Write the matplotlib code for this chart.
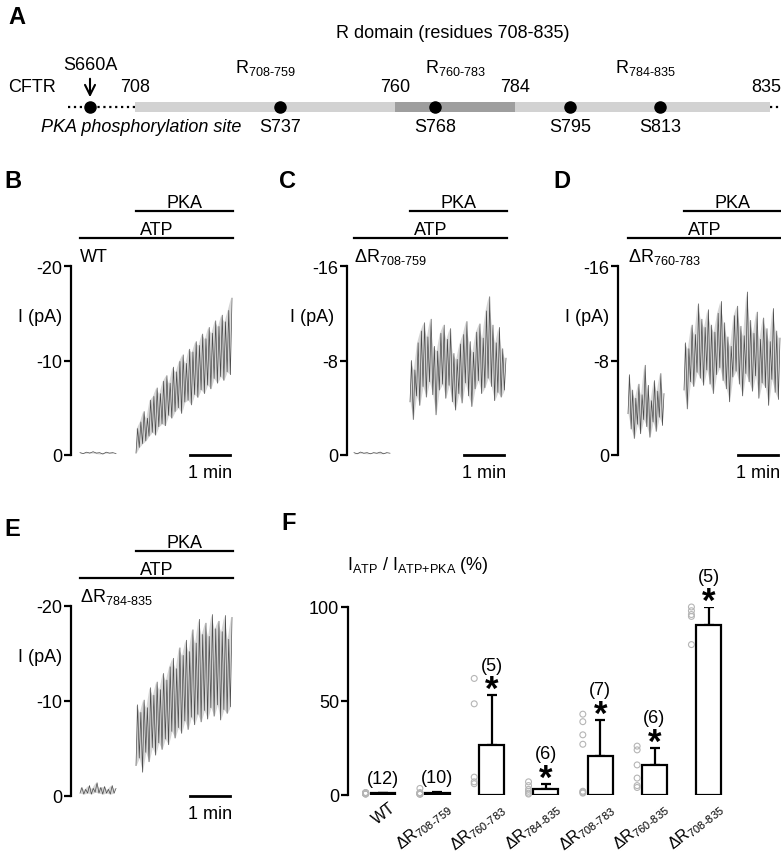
import numpy as np
import matplotlib
matplotlib.use("Agg")
import matplotlib.pyplot as plt

plt.rcParams['font.family'] = ['Liberation Sans', 'DejaVu Sans']
plt.rcParams['mathtext.fontset'] = 'custom'
plt.rcParams['mathtext.rm'] = 'Liberation Sans'
plt.rcParams['mathtext.it'] = 'Liberation Sans:italic'
plt.rcParams['mathtext.bf'] = 'Liberation Sans:bold'
plt.rcParams['axes.unicode_minus'] = False

W, H = 781, 853
FS = 13


def sub(a, b):
    return r'$_{\mathrm{%s}\text{-}\mathrm{%s}}$' % (a, b)


# ---------------- data ----------------
# A: R domain map (residue numbers)
r_start, r_end = 708, 835
r_dark = (760, 784)
r_bounds = [708, 760, 784, 835]
segments = [(708, 759), (760, 783), (784, 835)]
sites = ['S737', 'S768', 'S795', 'S813']
site_res = [737, 768, 795, 813]
s660_pos = 699  # drawn left of the break, not to scale

# B-E: current traces (pA), zigzag samples
B_atp = [-0.25, -0.15, -0.3, -0.2, -0.35, -0.2, -0.25, -0.1, -0.3, -0.2, -0.25, -0.15]
B_pka = [-0.2, -2.8, -0.8, -3.5, -1.2, -4.6, -1.5, -3.9, -2.0, -5.8,
         -2.4, -6.2, -2.1, -7.1, -3.0, -6.5, -3.3, -7.8, -3.1, -8.4,
         -4.2, -7.6, -3.9, -9.3, -4.6, -8.8, -5.0, -9.9, -4.4, -10.6,
         -5.6, -9.7, -5.8, -11.2, -5.3, -10.9, -6.4, -12.0, -6.1, -11.6,
         -6.9, -12.8, -6.5, -12.3, -7.4, -13.5, -7.0, -12.9, -8.1, -14.2,
         -7.6, -13.6, -8.3, -14.8, -7.9, -14.1, -8.8, -15.3, -8.5, -16.6]
C_atp = [-0.2, -0.1, -0.25, -0.15, -0.2, -0.1, -0.2, -0.15, -0.25, -0.1, -0.2, -0.15]
C_pka = [-4.5, -8.0, -3.0, -7.2, -5.0, -9.5, -4.2, -10.5, -5.8, -11.2,
         -4.9, -10.0, -6.2, -11.5, -5.1, -9.2, -3.4, -8.8, -5.5, -10.3,
         -6.0, -11.0, -4.8, -9.8, -5.9, -10.7, -4.5, -8.6, -3.8, -8.1,
         -5.2, -9.4, -4.4, -10.2, -6.1, -11.3, -5.0, -9.6, -4.1, -8.7,
         -5.6, -10.4, -6.3, -11.1, -5.2, -9.9, -5.7, -12.2, -6.5, -13.4,
         -5.8, -11.0, -4.6, -9.5, -5.3, -10.8, -4.9, -9.0, -5.5, -8.2]
D_atp = [-3.5, -6.8, -2.2, -5.5, -1.4, -4.8, -2.6, -6.0, -1.8, -5.1, -3.0, -7.6,
         -2.4, -5.9, -1.5, -4.6, -2.8, -6.3, -2.0, -5.4, -3.2, -6.9, -2.5, -5.2]
D_pka = [-5.5, -9.5, -3.9, -9.0, -6.2, -11.0, -5.8, -10.2, -7.0, -12.8,
         -6.5, -11.5, -5.9, -10.8, -7.2, -12.3, -6.0, -11.0, -5.2, -10.4,
         -6.8, -12.0, -7.4, -13.0, -6.3, -11.2, -5.6, -10.0, -4.5, -9.2,
         -6.6, -11.8, -7.1, -12.6, -6.0, -10.9, -5.0, -10.1, -6.9, -13.8,
         -6.2, -11.4, -5.4, -10.3, -6.7, -12.1, -4.8, -9.8, -6.1, -11.6,
         -5.7, -10.7, -4.2, -9.6, -6.4, -12.4, -5.3, -10.5, -4.7, -9.9]
E_atp = [-0.3, -0.9, -0.2, -0.7, -0.3, -1.1, -0.2, -0.8, -0.4, -1.4,
         -0.3, -0.9, -0.2, -1.0, -0.3, -0.7, -0.2, -1.1, -0.3, -0.8]
E_pka = [-3.2, -9.6, -4.0, -8.8, -2.5, -10.1, -4.6, -9.3, -3.6, -11.4,
         -5.1, -10.6, -4.3, -12.0, -5.6, -11.2, -4.9, -12.9, -6.0, -12.2,
         -5.4, -13.6, -6.8, -14.5, -6.1, -13.4, -7.2, -15.6, -6.6, -14.8,
         -7.9, -16.4, -7.0, -15.2, -8.3, -17.5, -7.5, -16.1, -8.6, -18.6,
         -7.8, -17.0, -9.0, -18.2, -8.1, -16.8, -9.3, -19.1, -8.4, -17.6,
         -9.6, -18.4, -8.0, -17.3, -9.1, -19.0, -8.7, -16.5, -9.4, -18.8]
atp_window = (0.0, 0.9)     # min, ATP alone recording
pka_window = (1.4, 3.8)     # min, ATP + PKA recording
pka_start, sol_end = 1.4, 3.83

# F: I_ATP / I_ATP+PKA (%)
groups = ['WT', 'ΔR' + sub(708, 759), 'ΔR' + sub(760, 783), 'ΔR' + sub(784, 835),
          'ΔR' + sub(708, 783), 'ΔR' + sub(760, 835), 'ΔR' + sub(708, 835)]
means = [0.8, 1.0, 26.7, 3.2, 21.0, 16.0, 90.4]
sems = [0.3, 0.6, 26.3, 2.7, 19.0, 9.0, 9.6]
ns = [12, 10, 5, 6, 7, 6, 5]
signif = [False, False, True, True, True, True, True]
points = [
    [0.5, 0.8, 1.0, 1.2, 0.6, 0.9, 1.1, 0.7, 1.0, 0.8, 1.3, 0.6],
    [3.5, 1.2, 0.8, 0.5, 1.0, 0.6, 0.9, 1.1, 0.7, 0.4],
    [62, 48.5, 9.5, 7, 6],
    [7, 5, 3, 2, 1, 0.5],
    [43, 39, 32, 27, 2, 1.5, 1],
    [26, 24, 16, 9, 5, 4],
    [100, 98, 96, 95, 80],
]

fig = plt.figure(figsize=(W / 100, H / 100), dpi=100)


def frame(x0, y0, x1, y1):
    return [x0 / W, 1 - y1 / H, (x1 - x0) / W, (y1 - y0) / H]


def ftext(x, y, s, **kw):
    kw.setdefault('fontsize', FS)
    fig.text(x / W, 1 - y / H, s, **kw)


# ---------------- A ----------------
ax = fig.add_axes(frame(0, 0, W, 140))
ax.set_xlim(681, 681 + W / 5)
ax.set_ylim(140, 0)
ax.axis('off')
ax.barh(108, r_end - r_start, left=r_start, height=10, color='#d2d2d2')
ax.barh(108, r_dark[1] - r_dark[0], left=r_dark[0], height=10, color='#9e9e9e')
ax.plot([694.6, r_start], [108, 108], ls=':', color='k', lw=1.6)
ax.plot([r_end, 681 + W / 5], [108, 108], ls=':', color='k', lw=1.6)
ax.plot(site_res + [s660_pos], [108] * 5, 'o', color='k', ms=8)
ax.annotate('', xy=(s660_pos, 101), xytext=(s660_pos, 77),
            arrowprops=dict(arrowstyle='->', color='k', lw=1.5, mutation_scale=18))
ax.text(s660_pos, 66, 'S660A', ha='center', va='center', fontsize=FS)
ax.text((r_start + r_end) / 2, 33, 'R domain (residues 708-835)', ha='center', va='center', fontsize=FS)
for a, b in segments:
    ax.text((a + b + 1) / 2, 68, 'R' + sub(a, b), ha='center', va='center', fontsize=FS)
for r in r_bounds[:-1]:
    ax.text(r, 87, str(r), ha='center', va='center', fontsize=FS)
ax.text(681 + W / 5, 87, str(r_bounds[-1]), ha='right', va='center', fontsize=FS)
ax.text(687.4, 87, 'CFTR', ha='center', va='center', fontsize=FS)
for s, r in zip(sites, site_res):
    ax.text(r, 128, s, ha='center', va='center', fontsize=FS)
ax.text(709.2, 128, 'PKA phosphorylation site', ha='center', va='center', fontsize=FS, style='italic')
ftext(8, 17, 'A', fontsize=17, fontweight='bold', va='center')


# ---------------- B-E ----------------
def draw_trace(ax, window, vals):
    t = np.linspace(*window, len(vals))
    lo, hi = vals[0::2], vals[1::2]
    n = min(len(lo), len(hi))
    ax.fill_between(t[0::2][:n], lo[:n], hi[:n], color='#d6d6d6', lw=0)
    ax.plot(t, vals, color='#4a4a4a', lw=0.5)


def trace_panel(left, top, bot, t0, ymax, yticks, name, atp, pka, letter, lpos, ylab_x):
    ax = fig.add_axes(frame(left, top, left + 164, bot))
    ax.set_xlim((left - t0) / 40, (left + 164 - t0) / 40)
    ax.set_ylim(0, ymax)
    for s in ['top', 'right', 'bottom']:
        ax.spines[s].set_visible(False)
    ax.spines['left'].set_linewidth(1.6)
    ax.spines['left'].set_bounds(ymax, 0)
    ax.set_xticks([])
    ax.set_yticks(yticks)
    ax.tick_params(axis='y', length=5, width=1.6, labelsize=FS, pad=1.5)
    draw_trace(ax, atp_window, atp)
    draw_trace(ax, pka_window, pka)
    tr = ax.get_xaxis_transform()
    ax.plot([0, sol_end], [1.147, 1.147], transform=tr, color='k', lw=1.6, clip_on=False)
    ax.plot([pka_start, sol_end], [1.29, 1.29], transform=tr, color='k', lw=1.6, clip_on=False)
    ax.text(sol_end / 2, 1.167, 'ATP', transform=tr, ha='center', va='baseline', fontsize=FS)
    ax.text((pka_start + sol_end) / 2, 1.31, 'PKA', transform=tr, ha='center', va='baseline', fontsize=FS)
    ax.text(0, 1.025, name, transform=tr, ha='left', va='baseline', fontsize=FS)
    ax.plot([2.74, 3.74], [0, 0], color='k', lw=2, clip_on=False)
    ax.text(3.24, -0.045, '1 min', transform=tr, ha='center', va='top', fontsize=FS)
    ftext(ylab_x, top + (bot - top) * 0.265, 'I (pA)', ha='center', va='center')
    ftext(lpos[0], lpos[1], letter, fontsize=17, fontweight='bold', va='center')
    return ax


trace_panel(71, 267, 456, 80, -20, [0, -10, -20], 'WT', B_atp, B_pka, 'B', (4, 182), 40)
trace_panel(347, 267, 456, 354, -16, [0, -8, -16], 'ΔR' + sub(708, 759), C_atp, C_pka, 'C', (279, 182), 312)
trace_panel(618, 267, 456, 628, -16, [0, -8, -16], 'ΔR' + sub(760, 783), D_atp, D_pka, 'D', (553, 182), 587)
trace_panel(71, 607, 797, 80, -20, [0, -10, -20], 'ΔR' + sub(784, 835), E_atp, E_pka, 'E', (4, 530), 40)

# ---------------- F ----------------
ax = fig.add_axes(frame(348, 608, 740, 796))
idx = np.arange(len(groups))
ax.set_xlim((348 - 383) / 54.3, (740 - 383) / 54.3)
ax.set_ylim(0, 100)
for s in ['top', 'right', 'bottom']:
    ax.spines[s].set_visible(False)
ax.spines['left'].set_linewidth(1.6)
ax.set_xticks([])
ax.set_yticks([0, 50, 100])
ax.tick_params(axis='y', length=5, width=1.6, labelsize=FS, pad=1.5)
ax.errorbar(idx, means, yerr=[np.zeros(len(idx)), sems], fmt='none', ecolor='k',
            elinewidth=1.6, capsize=3.5, capthick=1.6, zorder=1)
ax.bar(idx, means, width=0.46, color='white', edgecolor='k', lw=1.6, zorder=2)
for i, pts in enumerate(points):
    ax.scatter(np.full(len(pts), i - 0.32), pts, s=18, facecolors='none',
               edgecolors='#b5b5b5', lw=0.8, zorder=3, clip_on=False)
for i in idx:
    top = means[i] + sems[i]
    if signif[i]:
        ax.text(i, top - 2.0, '*', ha='center', va='baseline', fontsize=25, fontweight='bold')
        ax.text(i, top + 16, '(%d)' % ns[i], ha='center', va='center', fontsize=FS)
    else:
        ax.text(i, top + 7.5, '(%d)' % ns[i], ha='center', va='center', fontsize=FS)
    ax.text(i + 0.12, -0.02, groups[i], transform=ax.get_xaxis_transform(), rotation=38,
            rotation_mode='anchor', ha='right', va='top', fontsize=11.5)
ftext(347, 566, r'I$_{\mathrm{ATP}}$ / I$_{\text{ATP+PKA}}$ (%)', ha='left', va='center')
ftext(281, 523, 'F', fontsize=17, fontweight='bold', va='center')

fig.savefig('out.png', dpi=100)
